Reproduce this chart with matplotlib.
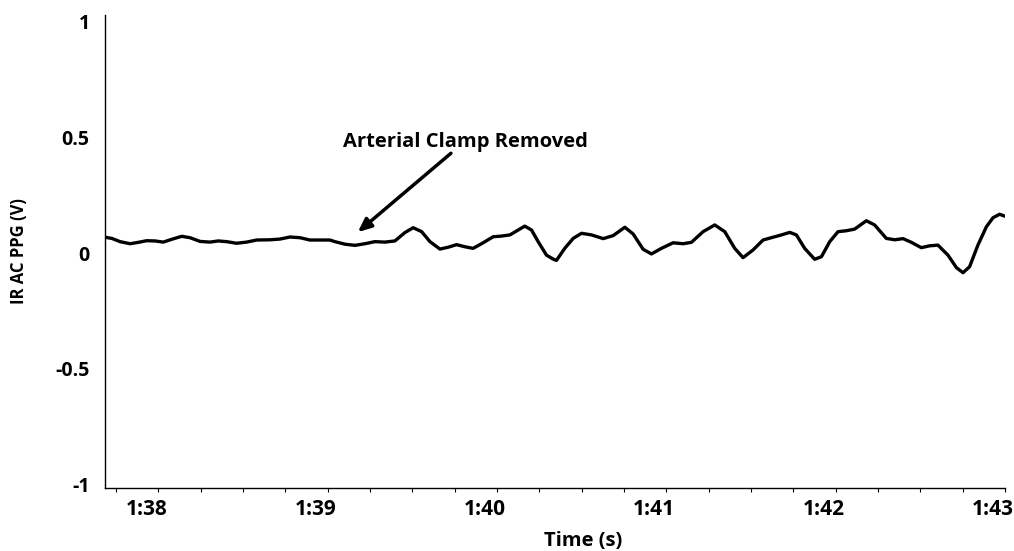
import matplotlib
matplotlib.use("Agg")
import matplotlib.pyplot as plt
from matplotlib.ticker import MultipleLocator, FuncFormatter
from matplotlib.transforms import ScaledTranslation

# Data (time in seconds, IR AC PPG in volts)
time_s = [97.685, 97.725, 97.774, 97.833, 97.882, 97.931, 97.980, 98.029, 98.079,
          98.138, 98.187, 98.246, 98.305, 98.354, 98.403, 98.462, 98.521, 98.581,
          98.659, 98.718, 98.777, 98.836, 98.895, 98.954, 99.013, 99.043, 99.102,
          99.161, 99.220, 99.279, 99.338, 99.397, 99.456, 99.505, 99.555, 99.604,
          99.663, 99.712, 99.761, 99.810, 99.859, 99.918, 99.977, 100.027, 100.076,
          100.125, 100.164, 100.204, 100.243, 100.292, 100.331, 100.351, 100.400,
          100.450, 100.499, 100.558, 100.627, 100.686, 100.755, 100.804, 100.863,
          100.912, 100.971, 101.040, 101.099, 101.148, 101.217, 101.286, 101.345,
          101.404, 101.453, 101.512, 101.571, 101.630, 101.680, 101.729, 101.768,
          101.817, 101.876, 101.916, 101.965, 102.014, 102.063, 102.112, 102.181,
          102.230, 102.299, 102.349, 102.398, 102.447, 102.506, 102.555, 102.604,
          102.663, 102.713, 102.752, 102.791, 102.840, 102.890, 102.929, 102.968,
          102.998]
ppg_v = [0.068, 0.063, 0.049, 0.040, 0.046, 0.053, 0.052, 0.047, 0.059,
         0.072, 0.066, 0.050, 0.047, 0.052, 0.049, 0.042, 0.047, 0.056,
         0.057, 0.060, 0.069, 0.066, 0.056, 0.056, 0.056, 0.049, 0.038,
         0.033, 0.040, 0.049, 0.047, 0.052, 0.088, 0.109, 0.092, 0.049,
         0.017, 0.025, 0.036, 0.027, 0.020, 0.044, 0.070, 0.073, 0.078,
         0.099, 0.116, 0.099, 0.049, -0.009, -0.026, -0.032, 0.020,
         0.063, 0.085, 0.078, 0.062, 0.075, 0.111, 0.082, 0.016,
         -0.004, 0.020, 0.044, 0.040, 0.046, 0.092, 0.121, 0.092,
         0.020, -0.020, 0.013, 0.056, 0.068, 0.078, 0.089, 0.078,
         0.020, -0.027, -0.016, 0.049, 0.092, 0.096, 0.103, 0.139,
         0.121, 0.063, 0.057, 0.062, 0.046, 0.023, 0.031, 0.034,
         -0.009, -0.063, -0.085, -0.059, 0.034, 0.113, 0.152, 0.167,
         0.159]

y_ticks = [-1, -0.5, 0, 0.5, 1]
y_tick_labels = ["-1", "-0.5", "0", "0.5", "1"]
x_ticks = [98, 99, 100, 101, 102, 103]

annotation_text = "Arterial Clamp Removed"
annot_tip = (99.178, 0.09)
annot_tail = (99.728, 0.43)
annot_text_pos = (99.816, 0.478)

plt.rcParams['font.family'] = ['Open Sans', 'DejaVu Sans']

W, H = 1014, 551
fig = plt.figure(figsize=(W / 100, H / 100), dpi=100)
ax = fig.add_axes([105 / W, 1 - 488 / H, (1005 - 105) / W, (488 - 15) / H])

ax.plot(time_s, ppg_v, color='black', linewidth=2.4, solid_capstyle='round',
        solid_joinstyle='round')

ax.set_xlim(97.685, 103.0)
ax.set_ylim(-1.013, 1.026)

ax.set_yticks(y_ticks)
ax.set_yticklabels(y_tick_labels)
ax.set_xticks(x_ticks)
ax.xaxis.set_minor_locator(MultipleLocator(0.25))
ax.xaxis.set_major_formatter(FuncFormatter(lambda v, p: f"{int(v // 60)}:{int(round(v % 60)):02d}"))

for s in ['top', 'right']:
    ax.spines[s].set_visible(False)
for s in ['left', 'bottom']:
    ax.spines[s].set_linewidth(1.0)
    ax.spines[s].set_color('black')

ax.tick_params(axis='y', length=0, pad=11, labelsize=14)
ax.tick_params(axis='x', which='major', length=3, width=0.8, pad=5, labelsize=15)
ax.tick_params(axis='x', which='minor', length=3, width=0.8)
for lab in ax.get_xticklabels() + ax.get_yticklabels():
    lab.set_fontweight('bold')
shift = ScaledTranslation(-12 / 100, 0, fig.dpi_scale_trans)
for lab in ax.get_xticklabels():
    lab.set_transform(lab.get_transform() + shift)

ax.set_ylabel("IR AC PPG (V)", fontsize=12, fontweight='bold', labelpad=20)
ax.text(0.531, -0.112, "Time (s)", transform=ax.transAxes, fontsize=14.5,
        fontweight='bold', ha='center', va='center')

ax.text(annot_text_pos[0], annot_text_pos[1], annotation_text, fontsize=14.5,
        fontweight='bold', ha='center', va='center')
ax.annotate("", xy=annot_tip, xytext=annot_tail,
            arrowprops=dict(arrowstyle='-|>,head_length=0.8,head_width=0.35',
                            color='black', linewidth=2.5, shrinkA=0, shrinkB=0))

fig.savefig("out.png", dpi=100)
